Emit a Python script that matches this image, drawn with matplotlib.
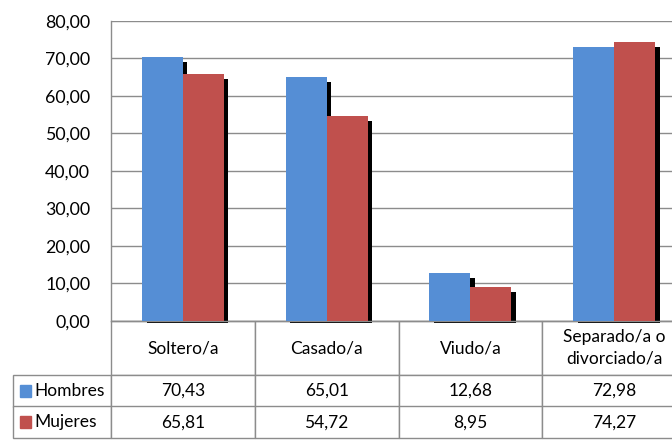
import matplotlib
matplotlib.use("Agg")
import matplotlib.pyplot as plt
from matplotlib.patches import Rectangle
from matplotlib.ticker import FuncFormatter

# datos
categorias = ["Soltero/a", "Casado/a", "Viudo/a", "Separado/a o\ndivorciado/a"]
series = ["Hombres", "Mujeres"]
hombres = [70.43, 65.01, 12.68, 72.98]
mujeres = [65.81, 54.72, 8.95, 74.27]
colores = ["#558ED5", "#C0504D"]
gris = "#8C8C8C"

plt.rcParams['font.family'] = ['Lato', 'DejaVu Sans']


def coma(v):
	"""
	Formato con coma decimal
	"""
	return f"{v:.2f}".replace(".", ",")


W, H = 672, 440
fig = plt.figure(figsize=(W / 100, H / 100), dpi=100)
# area de trazado (se sale un poco por la derecha, como en el original)
ax = fig.add_axes([111 / W, 1 - 321 / H, 575 / W, 300 / H])

ancho = 0.285
desp = 0.032
xs = list(range(len(categorias)))
for i, (valores, color) in enumerate(zip([hombres, mujeres], colores)):
	izq = [x - ancho + i * ancho for x in xs]
	# sombra
	ax.bar([p + desp for p in izq], [v - 0.85 for v in valores], bottom=-0.45,
		width=ancho, align='edge', color='black', zorder=2, clip_on=False)
	ax.bar(izq, valores, width=ancho, align='edge', color=color, zorder=3)

ax.set_xlim(-0.5, len(categorias) - 0.5)
ax.set_ylim(0, 80)
ax.set_yticks(range(0, 81, 10))
ax.yaxis.set_major_formatter(FuncFormatter(lambda v, _: coma(v)))
ax.set_xticks([])
ax.tick_params(axis='y', length=0, pad=15, labelsize=12.8, labelcolor='black')
ax.grid(axis='y', color=gris, lw=1)
ax.set_axisbelow(True)
for lado in ['top', 'right']:
	ax.spines[lado].set_visible(False)
for lado in ['left', 'bottom']:
	ax.spines[lado].set_color(gris)
	ax.spines[lado].set_linewidth(1)

# tabla de datos (bbox = solo celdas de datos, las etiquetas de fila van a la izquierda)
alto_cab = 54 / 300
alto_fila = 31.5 / 300
ancho_lab = 98 / 575
ancho_col = 1 / len(categorias)
alto_tabla = alto_cab + 2 * alto_fila
celdas = [[coma(v) for v in hombres], [coma(v) for v in mujeres]]
tabla = ax.table(cellText=celdas, colLabels=categorias, cellLoc='center',
	bbox=[0, -alto_tabla, 1, alto_tabla])
for r, nombre in enumerate(series, start=1):
	c = tabla.add_cell(r, -1, width=ancho_lab, height=alto_fila, text=nombre, loc='left')
	c.PAD = 0.22
for (r, c), cell in tabla.get_celld().items():
	cell.set_height(alto_cab if r == 0 else alto_fila)
	cell.set_width(ancho_lab if c == -1 else ancho_col)
	cell.set_edgecolor(gris)
	cell.set_linewidth(1)
	cell.get_text().set_linespacing(1.4)
tabla.auto_set_font_size(False)
tabla.set_fontsize(12.5)

# cuadros de leyenda en las etiquetas de fila
lado_x = 11 / 575
lado_y = 12 / 300
for r, color in enumerate(colores):
	yc = -(alto_cab + (r + 0.5) * alto_fila)
	ax.add_patch(Rectangle((-ancho_lab + 7 / 575, yc - lado_y / 2), lado_x, lado_y,
		transform=ax.transAxes, color=color, clip_on=False))

fig.savefig("out.png", dpi=100)
